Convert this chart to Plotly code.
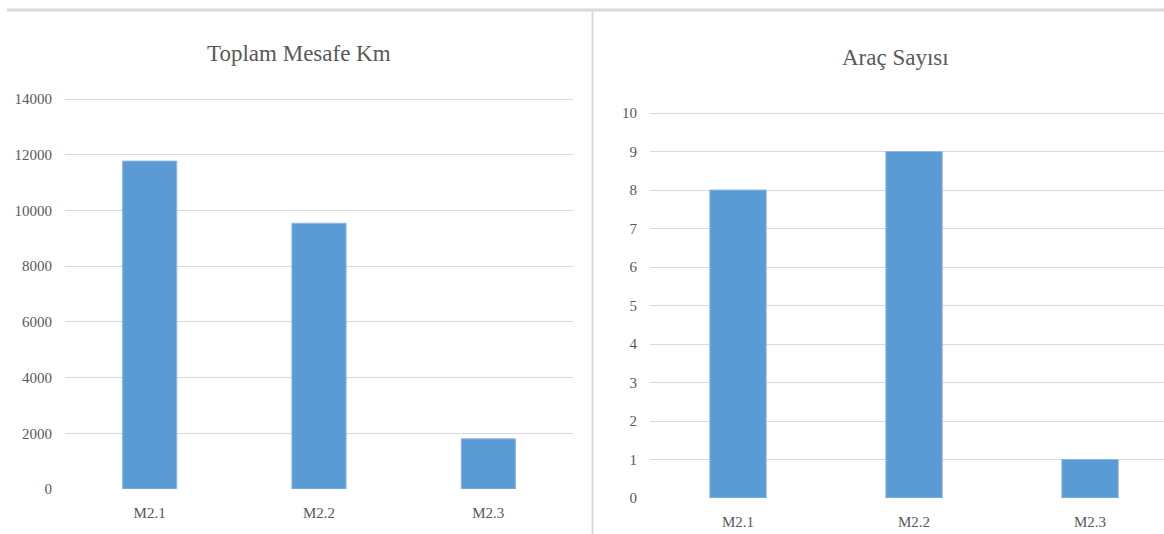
import plotly.graph_objects as go

W, H = 1164, 534

categories = ["M2.1", "M2.2", "M2.3"]
mesafe_values = [11770, 9540, 1800]
arac_values = [8, 9, 1]
mesafe_ticks = [0, 2000, 4000, 6000, 8000, 10000, 12000, 14000]
arac_ticks = list(range(0, 11))
title_left = "Toplam Mesafe Km"
title_right = "Araç Sayısı"

BAR = "#5B9BD5"
GRID = "#D9D9D9"
TXT = "#595959"
FONT = "'Liberation Serif', 'Times New Roman', Times, serif"

def px_x(p):
    return p / W

def px_y(p):
    return 1 - p / H

fig = go.Figure()
fig.add_trace(go.Bar(x=categories, y=mesafe_values, xaxis="x", yaxis="y",
                     marker=dict(color=BAR, line=dict(color="#8DB8E3", width=1)),
                     width=0.32, showlegend=False))
fig.add_trace(go.Bar(x=categories, y=arac_values, xaxis="x2", yaxis="y2",
                     marker=dict(color=BAR, line=dict(color="#8DB8E3", width=1)),
                     width=0.32, showlegend=False))

common_x = dict(showgrid=False, showline=False, zeroline=False, ticks="outside",
                ticklen=10, tickcolor="rgba(0,0,0,0)", automargin=False,
                tickfont=dict(family=FONT, size=15, color=TXT), fixedrange=True)
common_y = dict(showgrid=True, gridcolor=GRID, gridwidth=1, showline=False, zeroline=False,
                ticks="outside", ticklen=9, tickcolor="rgba(0,0,0,0)", automargin=False,
                tickformat="d",
                tickfont=dict(family=FONT, size=15, color=TXT), fixedrange=True)

# left: 0 at y=489, 14000 at y=99 -> 27.857 px per 1000; extend by 2 px on top
left_top_px = 97
left_max = 14000 * (489 - left_top_px) / (489 - 99)
# right: 0 at y=498, 10 at y=113 -> 38.5 px per unit
right_top_px = 111
right_max = 10 * (498 - right_top_px) / (498 - 113)

fig.update_layout(
    width=W, height=H,
    margin=dict(l=0, r=0, t=0, b=0, pad=0),
    paper_bgcolor="white", plot_bgcolor="white",
    xaxis=dict(domain=[px_x(65), px_x(573)], range=[-0.5, 2.5], anchor="y", **common_x),
    yaxis=dict(domain=[px_y(489), px_y(left_top_px)], range=[0, left_max],
               tickvals=mesafe_ticks, anchor="x", **common_y),
    xaxis2=dict(domain=[px_x(650), 1.0], range=[-0.5, 2.42], anchor="y2", **common_x),
    yaxis2=dict(domain=[px_y(498), px_y(right_top_px)], range=[0, right_max],
                tickvals=arac_ticks, anchor="x2", **common_y),
    annotations=[
        dict(text=title_left, x=px_x(299), y=px_y(53), xref="paper", yref="paper",
             showarrow=False, xanchor="center", yanchor="middle",
             font=dict(family=FONT, size=23, color=TXT)),
        dict(text=title_right, x=px_x(895), y=px_y(57), xref="paper", yref="paper",
             showarrow=False, xanchor="center", yanchor="middle",
             font=dict(family=FONT, size=23, color=TXT)),
    ],
    shapes=[
        dict(type="line", xref="paper", yref="paper", x0=px_x(7), x1=1.0,
             y0=px_y(10), y1=px_y(10), line=dict(color=GRID, width=3)),
        dict(type="line", xref="paper", yref="paper", x0=px_x(592.5), x1=px_x(592.5),
             y0=px_y(10), y1=0, line=dict(color=GRID, width=2)),
    ],
)

fig.write_html(
    "out.html",
    post_script="document.body.style.margin='0';document.body.style.padding='0';"
                "document.documentElement.style.overflow='hidden';",
)
